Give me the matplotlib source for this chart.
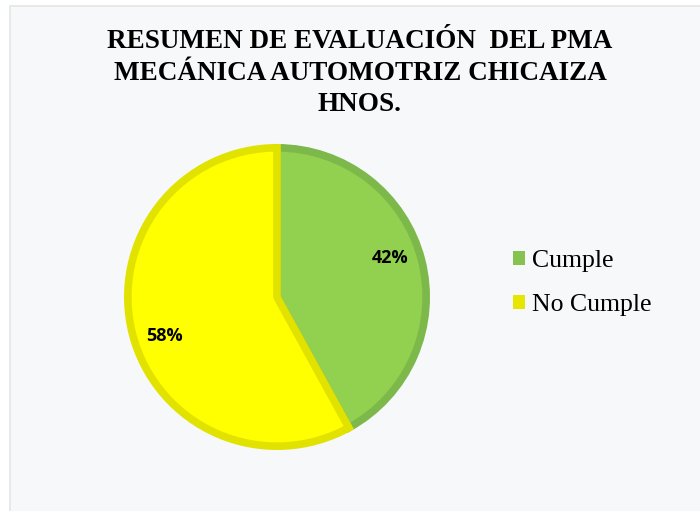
import matplotlib
matplotlib.use("Agg")
import matplotlib.pyplot as plt
import numpy as np
from matplotlib.patches import Rectangle

categories = ["Cumple", "No Cumple"]
values = [42, 58]
face_colors = ["#92d050", "#ffff00"]
edge_colors = ["#7cb84a", "#e2e200"]
title = "RESUMEN DE EVALUACIÓN  DEL PMA\nMECÁNICA AUTOMOTRIZ CHICAIZA\nHNOS."

fig = plt.figure(figsize=(7.0, 5.11), dpi=100)
fig.patch.set_facecolor("white")
bg = Rectangle((10/700, -0.01), 1, 1 - 6/511 + 0.01, transform=fig.transFigure,
               facecolor="#f7f8fa", edgecolor="#e4e5e7", linewidth=1.2, zorder=-10)
fig.patches.append(bg)

ax = fig.add_axes([(277-153)/700, (214-153)/511, 306/700, 306/511])
ax.set_facecolor("none")
ax.set_zorder(5)
wedges, texts, autotexts = ax.pie(values, colors=face_colors, startangle=90, counterclock=False,
                                  radius=0.975, autopct="%1.0f%%", pctdistance=0.8,
                                  wedgeprops=dict(linewidth=5.5),
                                  textprops=dict(fontsize=13, fontweight="bold", family="Open Sans", color="black"))
for w, ec in zip(wedges, edge_colors):
    w.set_edgecolor(ec)
    w.set_joinstyle("miter")
# nudge label positions slightly counter-clockwise, as in the original
rot = np.deg2rad(4.5)
for t in autotexts:
    x, y = t.get_position()
    t.set_position((x*np.cos(rot) - y*np.sin(rot), x*np.sin(rot) + y*np.cos(rot)))
ax.set_xlim(-1, 1)
ax.set_ylim(-1, 1)
ax.set_aspect("equal")

fig.text(360/700, 1 - 73/511, title, ha="center", va="center", fontsize=19.5, fontweight="bold",
         family="Liberation Serif", linespacing=1.32)

leg = fig.legend(wedges, categories, loc="center left", bbox_to_anchor=(490/700, 1 - 283/511),
                 frameon=False, prop=dict(family="Liberation Serif", size=18.5),
                 handlelength=0.45, handleheight=0.45, handletextpad=0.3, labelspacing=0.85)
for h, c in zip(leg.legend_handles, face_colors):
    h.set_edgecolor("none")
    h.set_facecolor(c)
leg.legend_handles[0].set_facecolor("#86c24f")
leg.legend_handles[1].set_facecolor("#e6e600")

fig.savefig("out.png", dpi=100)
